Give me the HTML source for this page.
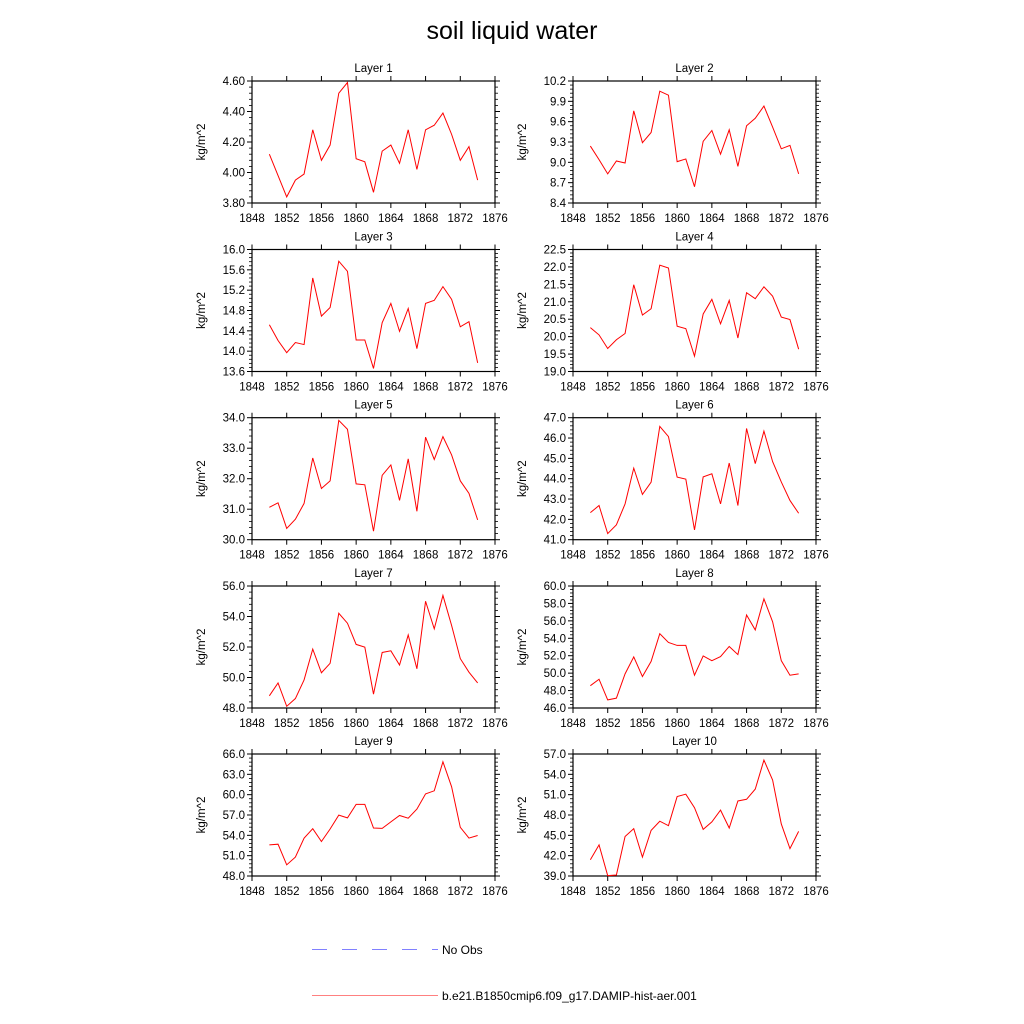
<!DOCTYPE html>
<html><head><meta charset="utf-8"><style>
html,body{margin:0;padding:0;background:#fff;}
svg{display:block;font-family:"Liberation Sans",sans-serif;}
</style></head><body>
<svg id="chart" width="1024" height="1024" viewBox="0 0 1024 1024">
<text x="512" y="39" text-anchor="middle" font-size="25">soil liquid water</text>
<g>
<line x1="312" y1="949.5" x2="438" y2="949.5" stroke="#8080ff" stroke-width="1" stroke-dasharray="15,15"/>
<text x="442" y="954" font-size="12">No Obs</text>
<line x1="312" y1="995.5" x2="438" y2="995.5" stroke="#ff8080" stroke-width="1"/>
<text x="442" y="1000" font-size="12">b.e21.B1850cmip6.f09_g17.DAMIP-hist-aer.001</text>
</g>
</svg>
<script>
const years = [1850,1851,1852,1853,1854,1855,1856,1857,1858,1859,1860,1861,1862,1863,1864,1865,1866,1867,1868,1869,1870,1871,1872,1873,1874];
const xTicks = [1848,1852,1856,1860,1864,1868,1872,1876];
const layer1 = [4.12,3.98,3.84,3.95,3.99,4.28,4.08,4.18,4.52,4.59,4.09,4.07,3.87,4.14,4.18,4.06,4.28,4.02,4.28,4.31,4.39,4.25,4.08,4.17,3.95];
const layer2 = [9.24,9.04,8.83,9.02,8.99,9.76,9.29,9.44,10.05,9.99,9.01,9.05,8.64,9.31,9.47,9.12,9.48,8.94,9.54,9.65,9.83,9.52,9.20,9.25,8.83];
const layer3 = [14.52,14.21,13.97,14.17,14.13,15.44,14.69,14.86,15.77,15.57,14.22,14.22,13.66,14.56,14.94,14.39,14.84,14.05,14.94,15.00,15.27,15.02,14.48,14.58,13.77];
const layer4 = [20.26,20.05,19.66,19.91,20.09,21.49,20.62,20.80,22.05,21.97,20.30,20.23,19.44,20.65,21.07,20.37,21.04,19.96,21.26,21.09,21.43,21.16,20.56,20.49,19.64];
const layer5 = [31.06,31.21,30.37,30.67,31.19,32.68,31.68,31.93,33.91,33.62,31.83,31.80,30.28,32.11,32.45,31.29,32.65,30.93,33.36,32.63,33.38,32.78,31.93,31.52,30.65];
const layer6 = [42.33,42.68,41.30,41.73,42.76,44.52,43.23,43.83,46.57,46.07,44.08,43.98,41.48,44.09,44.24,42.76,44.77,42.68,46.47,44.74,46.34,44.84,43.84,42.93,42.30];
const layer7 = [48.80,49.64,48.11,48.62,49.84,51.86,50.31,50.93,54.21,53.56,52.17,51.99,48.91,51.64,51.75,50.82,52.79,50.57,55.00,53.19,55.38,53.41,51.24,50.35,49.64];
const layer8 = [48.56,49.30,46.93,47.13,49.92,51.86,49.61,51.35,54.53,53.52,53.18,53.18,49.76,51.97,51.43,51.90,53.06,52.13,56.67,54.96,58.53,55.89,51.43,49.76,49.92];
const layer9 = [52.59,52.69,49.65,50.79,53.59,54.98,53.09,54.93,56.98,56.58,58.57,58.57,55.08,55.03,55.98,56.93,56.53,57.87,60.12,60.57,64.85,61.16,55.18,53.59,53.98];
const layer10 = [41.39,43.59,39.05,39.15,44.83,45.98,41.79,45.73,47.08,46.43,50.72,51.07,49.07,45.88,46.98,48.72,46.08,50.07,50.32,51.82,56.10,53.16,46.68,43.04,45.58];
const yTicks1 = ["3.80","4.00","4.20","4.40","4.60"];
const yTicks2 = ["8.4","8.7","9.0","9.3","9.6","9.9","10.2"];
const yTicks3 = ["13.6","14.0","14.4","14.8","15.2","15.6","16.0"];
const yTicks4 = ["19.0","19.5","20.0","20.5","21.0","21.5","22.0","22.5"];
const yTicks5 = ["30.0","31.0","32.0","33.0","34.0"];
const yTicks6 = ["41.0","42.0","43.0","44.0","45.0","46.0","47.0"];
const yTicks7 = ["48.0","50.0","52.0","54.0","56.0"];
const yTicks8 = ["46.0","48.0","50.0","52.0","54.0","56.0","58.0","60.0"];
const yTicks9 = ["48.0","51.0","54.0","57.0","60.0","63.0","66.0"];
const yTicks10 = ["39.0","42.0","45.0","48.0","51.0","54.0","57.0"];

const seriesList = [layer1,layer2,layer3,layer4,layer5,layer6,layer7,layer8,layer9,layer10];
const tickList = [yTicks1,yTicks2,yTicks3,yTicks4,yTicks5,yTicks6,yTicks7,yTicks8,yTicks9,yTicks10];
const NS = "http://www.w3.org/2000/svg";
const svg = document.getElementById("chart");
function mk(tag, attrs, parent){const e=document.createElementNS(NS,tag);for(const k in attrs)e.setAttribute(k,attrs[k]);parent.appendChild(e);return e;}

const PW = 243, PH = 122;
const colX = [252, 573];
const rowY = [81, 249.5, 417.7, 586, 754];
seriesList.forEach((vals, i) => {
  const px = colX[i % 2], py = rowY[Math.floor(i / 2)];
  const ticks = tickList[i];
  const ymin = parseFloat(ticks[0]), ymax = parseFloat(ticks[ticks.length - 1]);
  const xmin = xTicks[0], xmax = xTicks[xTicks.length - 1];
  const xs = v => px + (v - xmin) / (xmax - xmin) * PW;
  const ys = v => py + PH - (v - ymin) / (ymax - ymin) * PH;
  const g = mk("g", {}, svg);
  
  
  const t = mk("text", {x: px + PW / 2, y: py - 9, "text-anchor": "middle", "font-size": "11.5"}, g);
  t.textContent = "Layer " + (i + 1);
  
  
  const yl = mk("text", {x: 0, y: 0, "text-anchor": "middle", "font-size": "11.5", transform: "translate(" + (px - 47) + "," + (py + PH / 2) + ") rotate(-90)"}, g);
  yl.textContent = "kg/m^2";
  
  
  // y ticks
  const step = (ymax - ymin) / (ticks.length - 1);
  ticks.forEach((lab, k) => {
    const v = ymin + k * step, y = ys(v);
    mk("line", {x1: px - 5, y1: y, x2: px, y2: y, stroke: "#000", "stroke-width": 1}, g);
    mk("line", {x1: px + PW, y1: y, x2: px + PW + 5, y2: y, stroke: "#000", "stroke-width": 1}, g);
    const tl = mk("text", {x: px - 7, y: y + 4, "text-anchor": "end", "font-size": "11.5"}, g);
    tl.textContent = lab;
    
    
    if (k < ticks.length - 1) {
      for (let m = 1; m < 5; m++) {
        const ym = ys(v + step * m / 5);
        mk("line", {x1: px - 3, y1: ym, x2: px, y2: ym, stroke: "#000", "stroke-width": 0.8}, g);
        mk("line", {x1: px + PW, y1: ym, x2: px + PW + 3, y2: ym, stroke: "#000", "stroke-width": 0.8}, g);
      }
    }
  });
  xTicks.forEach(v => {
    const x = xs(v);
    mk("line", {x1: x, y1: py + PH, x2: x, y2: py + PH + 5, stroke: "#000", "stroke-width": 1}, g);
    mk("line", {x1: x, y1: py - 5, x2: x, y2: py, stroke: "#000", "stroke-width": 1}, g);
    const xl = mk("text", {x: x, y: py + PH + 19, "text-anchor": "middle", "font-size": "11.5"}, g);
    xl.textContent = v;
    
    
  });
  const fr = mk("rect", {x: px, y: py, width: PW, height: PH, fill: "none", stroke: "#000", "stroke-width": 1.2}, g);
  
  
  const pts = vals.map((v, k) => xs(years[k]).toFixed(2) + "," + ys(v).toFixed(2)).join(" ");
  const pl = mk("polyline", {points: pts, fill: "none", stroke: "#ff0000", "stroke-width": 1}, g);
  
  
});
</script>
</body></html>
